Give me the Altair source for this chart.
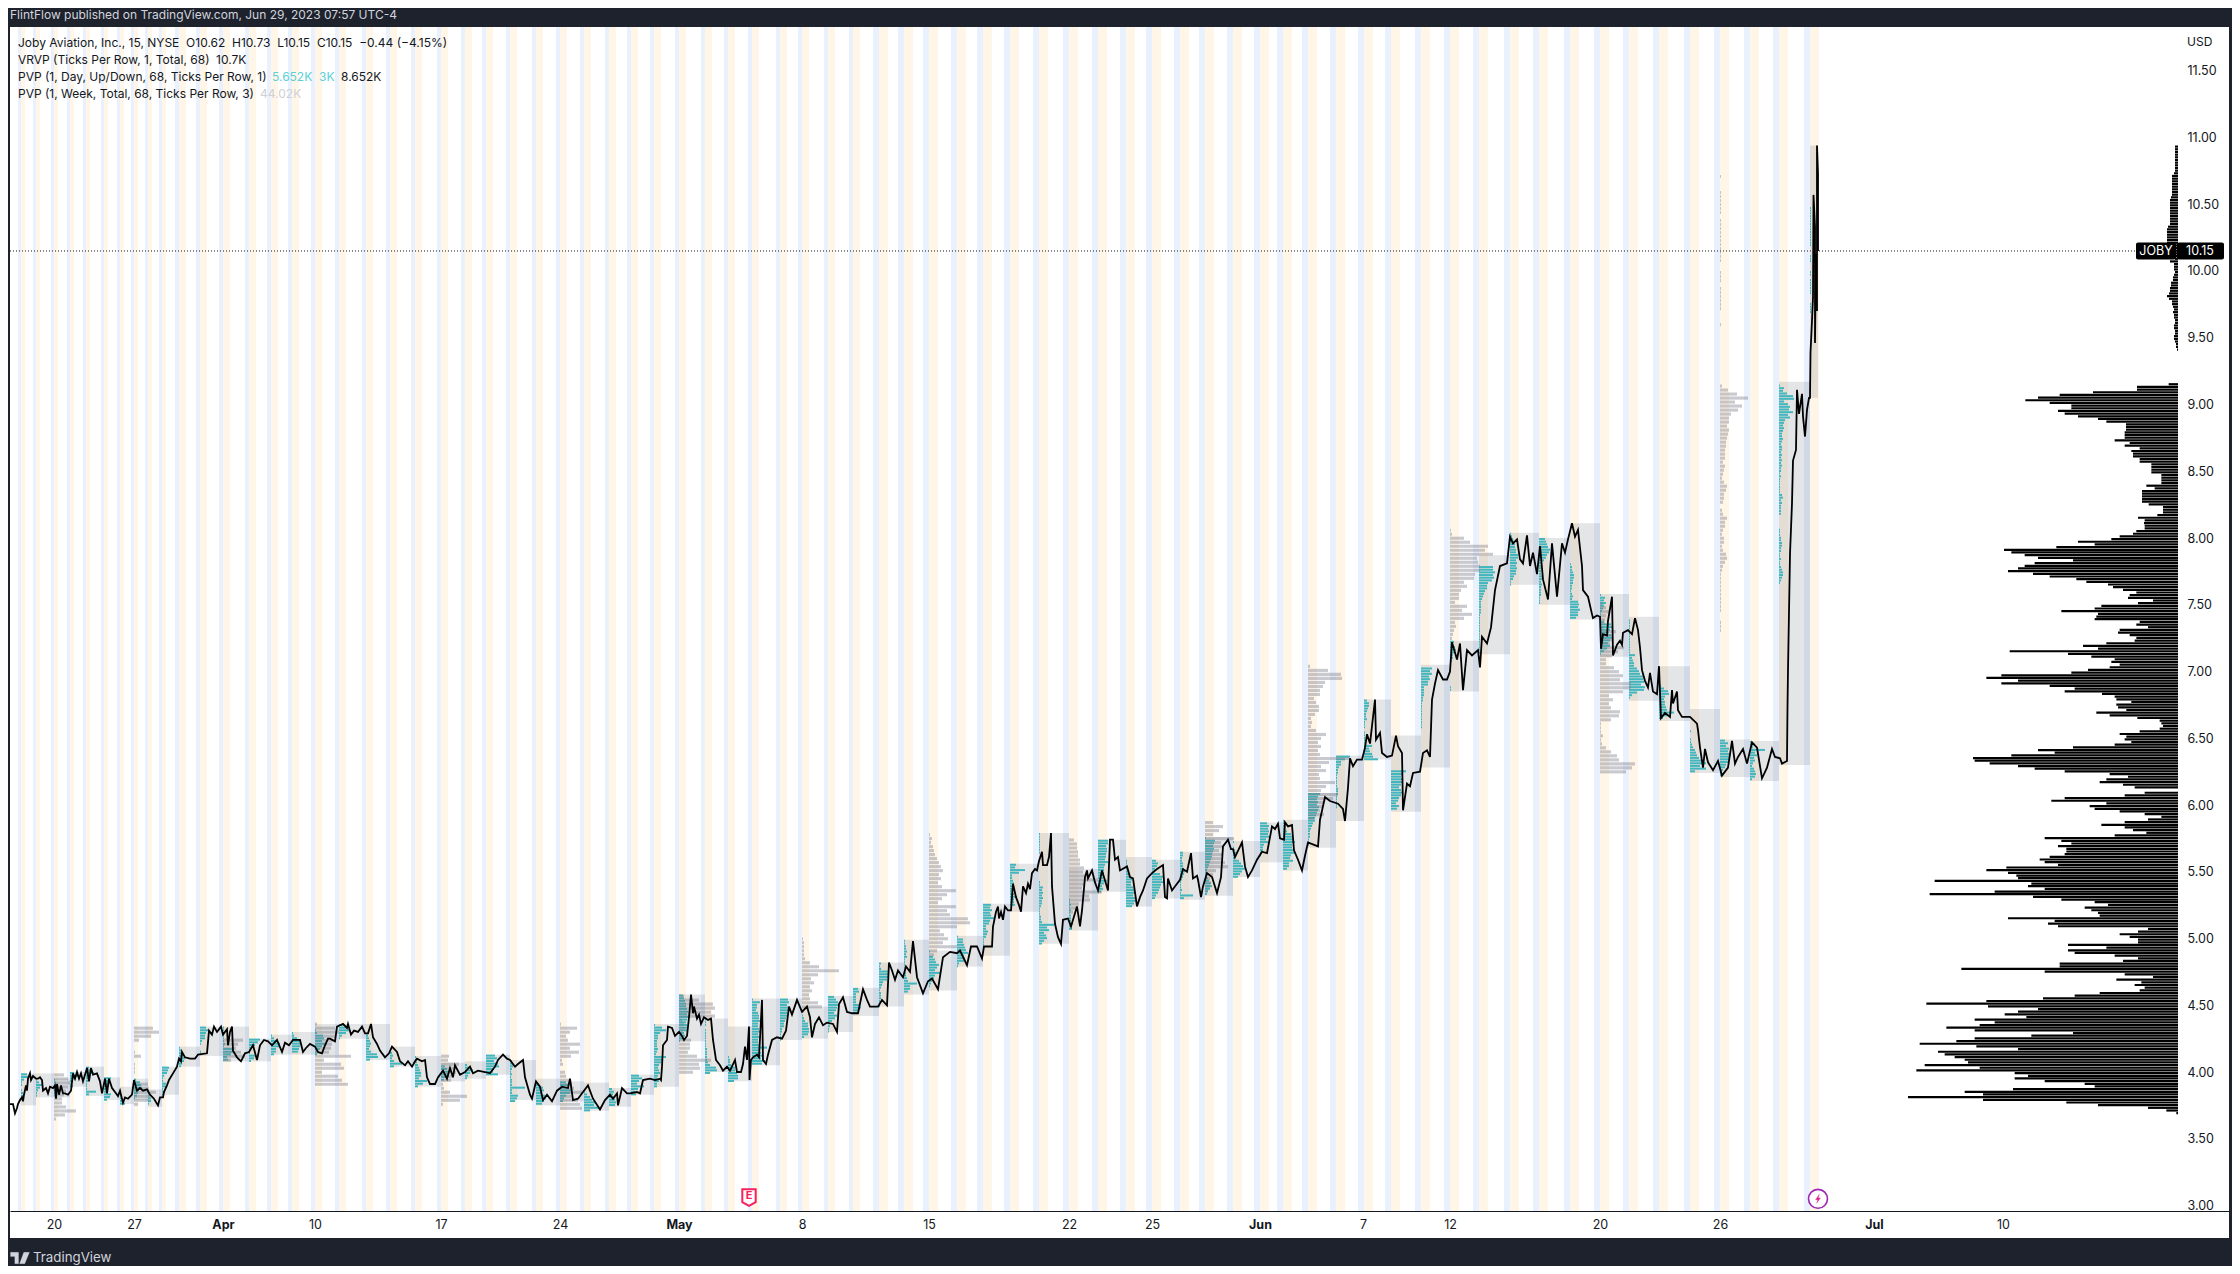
import altair as alt
import pandas as pd

alt.data_transformers.disable_max_rows()

# ---------- price path: (bar position, price) ----------
PRICE_MAR = [(10,3.76),(13,3.76),(15,3.69),(17,3.73),(18,3.76),(20,3.79),(22,3.81),(23,3.78),(24,3.83),(26,3.90),(27,3.86),(28,3.95),(30,3.99),(31,3.94),(33,3.97),(36,3.95),(38,3.95),(40,3.96),(42,3.94),(43,3.86),(46,3.88),(48,3.84),(50,3.89),(53,3.88),(55,3.90),(56,3.80),(57,3.91),(59,3.83),(61,3.90),(63,3.84),(65,3.84),(68,3.83),(71,3.86),(73,3.99),(75,3.95),(77,4.00),(79,3.95),(81,3.99),(83,3.93),(85,3.98),(87,4.03),(89,3.93),(91,4.03),(93,3.98),(97,3.99),(100,3.93),(102,3.84),(105,3.95),(107,3.84),(109,3.95),(112,3.88),(115,3.85),(118,3.82),(120,3.86),(123,3.77),(125,3.81),(128,3.80),(132,3.83),(134,3.94),(137,3.86),(140,3.88),(143,3.86),(147,3.87),(150,3.83),(154,3.80),(158,3.75),(160,3.81),(163,3.81),(164,3.85),(167,3.90),(169,3.94),(173,3.99),(177,4.04),(179,4.10),(181,4.08),(182,4.15),(185,4.11),(190,4.10),(195,4.10),(198,4.13),(207,4.14),(209,4.31),(212,4.28),(214,4.34),(217,4.30),(221,4.34)]
PRICE_APR = [(223,4.28),(227,4.32),(228,4.20),(230,4.30),(232,4.34),(233,4.16),(237,4.11),(241,4.08),(245,4.14),(249,4.15),(253,4.20),(257,4.09),(260,4.20),(264,4.24),(268,4.23),(272,4.20),(277,4.24),(282,4.15),(285,4.22),(289,4.20),(293,4.24),(300,4.24),(303,4.15),(306,4.18),(310,4.21),(315,4.19),(318,4.15),(322,4.14),(325,4.20),(328,4.25),(330,4.25),(335,4.23),(337,4.34),(340,4.35),(343,4.36),(347,4.33),(348,4.36),(351,4.28),(354,4.31),(358,4.30),(362,4.34),(365,4.29),(368,4.29),(371,4.36),(373,4.26),(377,4.21),(380,4.16),(385,4.11),(389,4.14),(392,4.19),(397,4.15),(400,4.08),(405,4.05),(408,4.08),(412,4.04),(415,4.08),(417,4.10),(422,4.08),(425,4.09),(427,3.96),(430,3.91),(435,3.91),(438,3.96),(441,3.99),(443,4.01),(445,3.98),(447,3.95),(450,4.03),(453,3.96),(455,4.05),(460,3.98),(465,4.00),(470,4.04),(473,3.99),(478,4.01),(485,4.00),(490,3.99),(495,4.04),(498,4.09),(503,4.13),(507,4.10),(510,4.09),(515,4.04),(518,4.06),(523,4.09),(525,3.96),(530,3.83),(532,3.80),(536,3.93),(540,3.89),(543,3.79),(547,3.83),(552,3.78),(557,3.86),(562,3.89),(568,3.88),(570,3.95),(573,3.79),(578,3.80),(583,3.85),(588,3.90),(593,3.80),(600,3.72),(605,3.79),(610,3.83),(613,3.80),(617,3.84),(618,3.75),(622,3.88),(627,3.84),(630,3.84),(637,3.85),(640,3.84),(643,3.94),(650,3.95),(655,3.94),(660,3.95)]
PRICE_MAY = [(661,3.94),(662,4.04),(663,4.20),(667,4.24),(668,4.34),(672,4.33),(675,4.27),(679,4.30),(682,4.27),(684,4.24),(687,4.27),(689,4.41),(691,4.58),(693,4.44),(694,4.49),(697,4.40),(699,4.43),(701,4.36),(704,4.41),(708,4.39),(711,4.40),(713,4.24),(716,4.09),(720,4.05),(723,4.01),(727,4.04),(730,4.01),(735,4.09),(737,4.00),(741,4.00),(743,4.06),(745,4.19),(747,4.09),(749,4.34),(749.5,3.94),(751,4.09),(753,4.11),(757,4.13),(759,4.11),(762,4.54),(763,4.09),(766,4.06),(768,4.13),(772,4.24),(777,4.26),(782,4.25),(786,4.31),(789,4.49),(792,4.43),(797,4.54),(802,4.45),(807,4.49),(810,4.41),(812,4.26),(815,4.36),(819,4.41),(823,4.35),(827,4.37),(833,4.36),(837,4.30),(839,4.51),(843,4.56),(847,4.45),(852,4.44),(858,4.44),(863,4.62),(867,4.54),(870,4.49),(878,4.49),(882,4.54),(887,4.50),(889,4.82),(892,4.76),(895,4.69),(898,4.76),(903,4.71),(906,4.79),(910,4.75),(913,4.98),(917,4.71),(923,4.59),(928,4.68),(932,4.70),(938,4.62),(943,4.86),(950,4.90),(957,4.89),(960,4.91),(967,4.80),(971,4.94),(977,4.94),(982,4.85),(984,4.94),(992,4.94),(993,5.09),(996,5.20),(998,5.24),(999,5.15),(1001,5.20),(1003,5.14),(1005,5.24),(1008,5.21),(1011,5.21),(1013,5.41),(1016,5.31),(1019,5.25),(1021,5.20),(1023,5.39),(1026,5.34),(1028,5.41),(1030,5.37),(1032,5.49),(1035,5.52),(1037,5.51),(1039,5.58),(1042,5.65),(1043,5.55),(1047,5.55),(1049,5.61),(1051,5.79),(1052,5.39),(1055,5.11),(1058,5.01),(1061,4.96),(1063,5.14),(1068,5.15),(1071,5.09),(1077,5.24),(1080,5.09),(1082,5.21),(1085,5.46),(1087,5.51),(1088,5.45),(1092,5.51),(1095,5.42),(1098,5.36),(1102,5.51),(1108,5.36),(1110,5.74),(1113,5.74),(1115,5.59),(1118,5.61),(1120,5.51),(1127,5.54),(1130,5.46),(1133,5.45),(1137,5.24),(1140,5.31),(1143,5.36),(1147,5.45),(1152,5.49),(1157,5.52),(1163,5.55),(1165,5.31),(1167,5.30),(1168,5.45),(1172,5.36),(1177,5.41),(1180,5.44),(1183,5.52),(1187,5.50),(1191,5.64),(1193,5.45),(1197,5.47),(1198,5.44),(1201,5.31),(1203,5.39),(1207,5.49),(1212,5.46),(1217,5.34),(1221,5.46),(1223,5.69),(1228,5.74),(1231,5.67),(1233,5.67),(1235,5.61),(1242,5.72),(1245,5.54),(1248,5.46),(1252,5.51),(1257,5.59)]
PRICE_JUN = [(1262,5.65),(1267,5.64),(1272,5.84),(1275,5.82),(1278,5.86),(1280,5.75),(1284,5.74),(1285,5.87),(1288,5.84),(1292,5.85),(1294,5.66),(1298,5.59),(1302,5.51),(1305,5.62),(1308,5.72),(1318,5.69),(1320,5.89),(1325,6.06),(1330,6.03),(1338,6.01),(1343,5.97),(1345,5.88),(1348,6.13),(1350,6.35),(1353,6.29),(1357,6.34),(1362,6.34),(1365,6.43),(1367,6.53),(1370,6.46),(1375,6.79),(1376,6.49),(1380,6.54),(1382,6.39),(1387,6.36),(1392,6.37),(1396,6.52),(1398,6.44),(1402,6.39),(1403,5.96),(1407,6.16),(1410,6.14),(1413,6.24),(1420,6.25),(1423,6.39),(1427,6.41),(1430,6.36),(1432,6.79),(1435,6.91),(1438,7.01),(1443,6.94),(1447,6.94),(1450,7.00),(1452,7.22),(1457,7.09),(1460,7.21),(1463,6.86),(1467,7.16),(1472,7.12),(1478,7.16),(1480,7.03),(1482,7.26),(1487,7.21),(1491,7.33),(1495,7.61),(1500,7.79),(1507,7.81),(1510,8.01),(1513,7.96),(1517,7.99),(1520,7.84),(1523,7.81),(1527,8.02),(1530,7.79),(1533,7.89),(1537,7.73),(1540,7.94),(1543,7.69),(1548,7.54),(1552,7.96),(1557,7.56),(1562,7.96),(1565,7.89),(1568,7.99),(1572,8.11),(1575,8.01),(1578,8.06),(1582,7.79),(1583,7.61),(1588,7.56),(1592,7.43),(1593,7.40),(1597,7.42),(1600,7.41),(1601,7.17),(1603,7.28),(1607,7.27),(1608,7.38),(1612,7.56),(1613,7.12),(1617,7.20),(1620,7.23),(1622,7.20),(1623,7.29),(1628,7.31),(1632,7.28),(1635,7.40),(1638,7.31),(1640,7.18),(1642,7.01),(1645,6.93),(1648,6.88),(1650,6.99),(1653,6.85),(1657,6.83),(1659,7.04),(1661,6.65),(1665,6.69),(1670,6.66),(1672,6.86),(1673,6.76),(1677,6.85),(1678,6.71),(1682,6.66),(1685,6.66),(1690,6.66),(1697,6.61),(1698,6.56),(1700,6.43),(1703,6.28),(1705,6.42),(1708,6.32),(1713,6.26),(1718,6.33),(1722,6.22),(1728,6.28),(1732,6.48),(1735,6.31),(1738,6.36),(1743,6.42),(1747,6.31),(1752,6.47),(1757,6.43),(1762,6.20),(1767,6.28),(1772,6.42),(1775,6.36),(1780,6.35),(1782,6.31),(1787,6.33),(1787.5,6.73),(1788,7.01),(1790,7.88),(1792,8.26),(1793,8.58),(1796,8.66),(1797,9.11),(1799,8.93),(1802,9.08),(1803,8.91),(1805,8.76),(1807,8.96),(1809,9.05),(1810,9.05),(1810.5,9.39),(1812,9.63),(1813,9.80),(1813.5,10.57),(1815,10.33),(1815,9.46),(1816,10.13),(1817,9.70),(1817,10.94),(1818,10.73),(1818,10.15)]

# ---------- session boxes: (start, high, low, daily volume-profile row lengths from high down) ----------
DAYS = [
 (21,3.99,3.75,[6,7,3,1,1,0,1,2,2,1]),(36,3.99,3.81,[0,0,1,3,6,4,2,1,1]),(54,3.95,3.81,[1,2,1,3,7,5,3]),(70,4.00,3.89,[4,8,6,3,2,3]),
 (86,4.04,3.82,[3,6,8,4,2,2,1,1,1,10,3]),(104,3.96,3.79,[7,6,5,4,2,3,7,6,3]),(120,3.89,3.76,[0,1,0,1,2,4,5]),(134,3.95,3.79,[2,6,7,8,5,4,3,1]),
 (148,3.87,3.74,[1,1,1,3,3,1]),(162,4.04,3.83,[7,6,5,2,1,1,4,4,1,3,2]),(179,4.19,4.04,[1,3,2,4,6,5,3,2]),(200,4.34,4.12,[6,8,6,5,5,2,1,0,0,1,1]),
 (223,4.34,4.08,[1,1,0,1,1,1,2,1,10,11,8,4,5]),(249,4.25,4.08,[11,9,6,3,1,1,6,5,2]),(271,4.28,4.13,[1,3,6,9,8,5,5,3]),(292,4.30,4.13,[1,2,5,8,9,8,7,6]),
 (315,4.36,4.13,[0,0,1,2,8,9,7,10,7,5,3,2]),(339,4.36,4.25,[5,9,10,7,3,1]),(366,4.36,4.09,[0,0,0,0,2,3,4,5,4,3,5,11,12,4]),(390,4.19,4.04,[0,1,2,3,2,4,12,4]),
 (415,4.12,3.89,[1,2,2,3,4,5,6,6,4,12,8,3]),(441,4.07,3.93,[0,4,6,9,7,5,3]),(465,4.08,3.95,[0,2,4,8,5,3,2]),(486,4.13,3.98,[9,11,8,12,13,8,7,12]),
 (510,4.09,3.79,[2,3,3,2,1,2,1,2,2,2,15,2,2,8,7,5]),(536,3.95,3.75,[0,0,3,7,8,6,9,10,8,6]),(560,3.93,3.78,[6,8,9,12,10,6,4,3]),(584,3.92,3.71,[0,0,0,1,3,6,8,12,10,15,6]),
 (609,3.88,3.74,[3,5,4,5,6,7,6]),(631,3.98,3.83,[8,11,8,6,13,7,4,5]),(654,4.36,3.89,[1,8,12,6,4,4,3,3,3,4,3,2,12,8,7,5,4,5,6,4,3,5,3,3]),
 (679,4.58,4.23,[4,5,6,7,7,8,9,8,9,8,7,8,9,8,5,6,4,1]),(705,4.40,4.00,[1,1,1,0,1,1,1,1,1,1,1,2,2,2,2,2,3,5,11,12,5]),(728,4.34,3.93,[0,0,0,0,0,0,0,0,0,0,0,1,2,2,3,7,7,9,10,10,6]),
 (752,4.55,4.05,[1,8,5,5,4,6,7,7,8,6,6,7,8,6,7,6,6,7,15,8,9,10,9,13,10]),(780,4.55,4.24,[8,9,7,9,10,7,7,6,5,4,4,2,2,1,1,1]),(802,4.49,4.25,[0,0,0,1,2,3,6,6,7,7,6,2]),
 (828,4.57,4.30,[6,8,10,10,9,8,6,9,7,4,2,2,1,1]),(853,4.63,4.42,[5,6,3,3,3,3,6,8,5,4]),(879,4.82,4.49,[2,1,2,9,10,9,8,4,3,2,1,2,2,2,1,1,1]),
 (904,4.99,4.58,[1,1,2,2,3,2,3,1,1,1,1,1,2,2,3,4,13,6,6,4]),(929,4.91,4.61,[1,0,4,6,7,10,8,6,11,6,5,3,2,1]),(957,5.02,4.79,[1,6,6,7,8,9,11,7,8,7,2,1]),
 (983,5.26,4.87,[8,7,9,7,8,11,7,6,3,3,5,4,3,1,1,1]),(1010,5.56,5.20,[6,5,15,9,2,2,3,4,3,3,3,4,5,4,4,5]),
 (1039,5.79,4.96,[1,1,1,1,1,1,1,1,0,0,0,0,0,0,0,0,0,0,1,1,4,3,4,3,4,3,3,2,1,1,1,2,2,3,15,8,10,5,7,8,5,3]),
 (1069,5.52,5.06,[0,0,0,0,0,0,0,0,0,0,0,1,1,2,1,2,1,2,2,2,4,3,3]),(1098,5.74,5.35,[10,10,8,9,9,8,8,7,10,7,6,6,6,6,5,9,6,4,5,3]),
 (1126,5.61,5.24,[0,1,1,1,1,2,3,3,6,5,5,7,8,9,7,9,10,8,6]),(1152,5.59,5.30,[4,6,5,3,3,8,12,10,12,9,8,7,6,4,3]),(1180,5.65,5.29,[3,3,2,2,3,3,4,5,4,3,2,1,1,1,2,1,13,4]),
 (1205,5.76,5.32,[1,10,9,8,9,8,7,7,6,5,4,3,2,2,2,3,4,6,7,5,3,2]),(1233,5.73,5.46,[1,0,1,2,4,3,2,6,8,10,12,9,7,5]),(1260,5.87,5.57,[7,9,8,9,8,9,6,8,4,3,3,2,1]),
 (1283,5.89,5.51,[1,1,1,2,4,8,9,10,12,9,9,10,12,8,7,10,6,6,4]),(1308,6.09,5.68,[12,10,9,10,9,11,10,9,8,7,7,5,4,3,2,2,2,1,1,1]),
 (1336,6.37,5.88,[14,9,5,5,3,2,2,1,1,1,1,1,2,2,2,1,1,1,1,1]),(1364,6.79,6.34,[3,5,5,4,3,2,2,3,1,1,1,0,1,1,1,2,2,8,5,6,8,9,14]),
 (1391,6.52,5.95,[0,0,0,0,0,0,0,0,0,0,0,0,0,15,12,10,11,11,10,8,10,11,10,8,7,5,8,6]),(1421,7.05,6.28,[0,11,9,11,8,9,7,7,3,3,3,3,2,2,1,1,1,1,1,1,1,1,1,1]),
 (1450,7.23,6.85,[4,3,5,6,5,3,3,2,1,1,1,1,0,0,0,0,0,1,1]),(1479,7.87,7.13,[0,0,0,0,14,14,16,14,15,13,9,8,8,6,5,4,3,2,2,2,2,2,1,1,1,1,1,1,1,1,1,1,1,1,1,1,1]),
 (1510,8.04,7.65,[1,2,3,4,5,5,6,6,8,8,6,7,6,7,6,6,4,3,1,1]),(1539,8.00,7.50,[6,7,8,9,11,10,8,7,5,3,2,2,2,2,3,3,2,3,2,2,2,2,1,1,1]),
 (1570,8.11,7.39,[0,0,0,0,0,0,0,0,0,0,0,0,0,0,0,1,2,2,3,4,4,3,3,2,2,1,2,3,2,8,9,8,10,8,8,6]),(1600,7.58,7.11,[1,5,4,6,4,3,2,1,1,1,4,11,12,10,9,11,12,10,8,10,7,4,1]),
 (1629,7.41,6.78,[0,1,1,1,1,1,1,1,1,1,1,1,1,1,6,3,4,5,5,8,10,11,14,14,15,12,16,15,8,3,1]),(1659,7.04,6.63,[0,0,0,0,0,0,0,2,5,9,10,6,5,6,6,7,8,15,9,4]),
 (1690,6.72,6.24,[0,0,0,0,0,0,0,0,1,0,0,1,1,2,3,5,6,7,9,12,16,10,16,5]),(1720,6.49,6.21,[5,8,6,9,8,9,10,9,8,6,5,3,1,1]),(1750,6.48,6.18,[1,5,3,15,5,7,4,5,3,2,4,5,6,5,2]),
 (1779,9.17,6.30,[0,1,5,4,8,14,15,5,9,11,10,14,9,11,6,5,4,5,4,3,3,4,3,2,3,3,2,3,2,3,2,3,2,2,1,2,1,1,1,1,1,1,3,4,2,3,2,2,2,2,0,0,0,0,0,1,1,1,2,2,3,3,2,2,1,1,2,1,1,2,3,4,4,3,2,1]),
 (1810,10.94,9.05,[0,0,0,0,0,0,0,0,0,0,0,0,0,0,0,0,0,0,0,0,0,0,0,1,1,1,1,1,1,1,1,1,1,1,1,1,1,1,0,0,0,1,1,1,0,0,0,1,1,0,1,1,1,1,1,1,0,0,0,1,1,1,1]),
]
LAST_BAR = 1818

# extended-hours band widths, by first session they apply to: (from bar, before, after)
BAND_WIDTHS = [(0,3,4),(179,4,7),(879,6,9)]

# ---------- weekly profile: (start, top price, row lengths) ----------
WEEKS = [
 (54,3.99,[10,14,16,14,12,10,8,8,12,22,11,2]),
 (134,4.34,[19,25,17,5,0,0,1,7,0,1,1,1,0,1,14,15,22,16,15,4]),
 (223,4.25,[20,15,13,18,22,8]),
 (315,4.37,[2,20,24,20,18,17,16,14,36,9,26,29,7,23,27,33]),
 (441,4.13,[8,7,18,14,15,11,10,2,3,9,26,19,2]),
 (560,4.37,[1,17,10,6,8,20,10,19,11,2,3,0,5,6,9,12,14,22,11,18,20,22]),
 (679,4.58,[5,20,34,36,32,36,3,5,6,4,5,12,11,11,9,18,32,20,21,14]),
 (802,5.01,[1,2,2,2,2,3,8,17,37,16,9,12,8,10,7,8,16,20,2]),
 (929,5.79,[1,3,2,4,5,6,8,10,12,14,10,12,9,13,27,18,13,9,27,18,21,39,41,28,11,15,19,14,28,8,5]),
 (1069,5.75,[5,8,8,9,9,11,11,15,14,20,29,15,13,33,20,21,10,8,4]),
 (1205,5.88,[8,18,14,8,29,16,18,14,18,16,20,23,11,8,5,6,5,3]),
 (1308,7.05,[2,20,33,34,17,15,12,12,6,8,11,11,7,3,4,3,8,18,13,10,13,10,12,41,21,13,18,11,12,27,18,13,30,25,15,14,12,16,6]),
 (1450,8.07,[1,2,14,20,38,35,43,27,28,30,30,25,24,14,17,11,9,9,5,17,12,22,14,5,6,4,3,2]),
 (1600,7.52,[3,6,10,6,5,5,4,16,12,12,10,24,18,12,6,6,14,19,23,20,31,31,23,9,13,9,11,20,19,11,1,1,1,3,1,2,6,11,17,19,35,32,26]),
 (1720,9.15,[2,8,17,28,15,22,18,11,9,9,7,9,8,7,6,6,5,5,5,3,5,4,3,2,4,7,6,4,4,3,0,2,3,7,5,5,3,2,4,4,2,3,6,7,5,3,2,1,1,1,1,1,1,1,1,1,1,0,0,1,1,1]),
 (1720,10.72,[1,0,0,0,1,1,1,1,1,1,0,1,1,1,1,1,1,1,1,1,1,1,0,0,1,1,1,0,1,1,1,1,1,1,0,0,0,1]),
]

# ---------- visible-range profile, row lengths ----------
VRVP_TOP_START = 10.94
VRVP_TOP = [3,3,3,3,3,3,3,3,3,3,4,6,6,6,6,6,6,6,6,7,8,8,8,8,8,8,8,8,8,8,10,11,11,11,11,11,11,11,9,9,8,8,3,8,4,4,4,3,4,5,5,7,7,8,8,9,11,9,6,6,5,4,5,4,4,3,3,4,4,3,3,4,4,3,2,2,1]
VRVP_MID_START = 9.16
VRVP_MID = [28,123,123,255,355,420,458,385,320,320,360,340,300,240,215,156,156,156,160,160,160,190,145,160,115,140,135,135,115,115,80,80,80,80,50,50,50,50,95,70,108,108,108,108,108,88,45,45,45,62,120,100,102,100,100,125,135,175,200,300,250,365,522,500,460,420,315,430,460,480,510,435,385,305,275,210,195,165,125,145,150,75,120,230,250,350,240,245,250,115,125,90,175,180,145,125,130,215,285,240,505,330,260,190,200,175,205,270,320,530,575,480,530,385,310,340,228,190,185,140,185,180,155,245,205,122,55,50,45,55,115,175,155,160,140,190,315,420,370,500,615,610,565,480,430,340,205,150,215,235,165,130]
VRVP_LOW_START = 6.10
VRVP_LOW = [100,160,340,380,215,265,250,175,100,50,90,160,230,160,135,95,190,400,350,320,360,335,335,340,385,415,400,360,515,575,510,485,480,730,440,450,400,550,745,435,350,250,210,280,260,240,235,510,370,390,360,90,120,175,145,120,120,330,215,330,310,190,120,165,355,355,650,400,160,75,185,110,130,100,115,235,310,405,575,755,570,420,480,520,455,610,550,595,695,610,315,440,610,665,775,605,480,720,700,670,640,630,760,595,785,490,450,490,400,280,250,495,640,585,810,585,335,240,90,35,5]
VRVP_BASE = 2178
VRVP_SCALE = 1 / 3

# ---------- axes ----------
TICK_BARS = [54,134,223,315,441,560,679,802,929,1069,1152,1260,1363,1450,1600,1720,1874,2003]
TICK_TEXT = ["20","27","Apr","10","17","24","May","8","15","22","25","Jun","7","12","20","26","Jul","10"]
MONTHS = [223,679,1260,1874]
PRICE_TICKS = [3,3.5,4,4.5,5,5.5,6,6.5,7,7.5,8,8.5,9,9.5,10,10.5,11,11.5]
LAST_CLOSE = 10.15

DARK, INK = "#1e222d", "#131722"
FONT = "Inter"

xs = alt.Scale(domain=[10, 2229], nice=False, zero=False)
ys = alt.Scale(domain=[2.7566, 11.8277], nice=False, zero=False)
AXIS_FLOOR = 2.959
AXIS_TOP = 11.8277

def X(f="x"):
    return alt.X(f"{f}:Q", scale=xs, title=None)
def Y(f="y"):
    return alt.Y(f"{f}:Q", scale=ys, title=None)
def X2(f="x2"):
    return alt.X2(f"{f}:Q")
def Y2(f="y2"):
    return alt.Y2(f"{f}:Q")

# ----- rows
bands, boxes, teal = [], [], []
for i, (s, hi, lo, rows) in enumerate(DAYS):
    end = DAYS[i + 1][0] if i + 1 < len(DAYS) else LAST_BAR
    b, a = [(p, q) for t, p, q in BAND_WIDTHS if t <= s][-1]
    bands.append(dict(x=s - b, x2=s, kind="pre"))
    bands.append(dict(x=s, x2=s + a, kind="post"))
    boxes.append(dict(x=s, x2=end, y=hi, y2=lo))
    for j, n in enumerate(rows):
        if n:
            top = hi - 0.02 * j
            teal.append(dict(x=s, x2=s + n, y=top, y2=top - 0.015))

week = []
for s, top, rows in WEEKS:
    for j, n in enumerate(rows):
        if n:
            t = top - 0.03 * j
            week.append(dict(x=s, x2=s + n, y=t, y2=t - 0.0235))

vrvp = []
for start, rows, k in [(VRVP_TOP_START, VRVP_TOP, 1.0), (VRVP_MID_START, VRVP_MID, VRVP_SCALE), (VRVP_LOW_START, VRVP_LOW, VRVP_SCALE)]:
    for j, n in enumerate(rows):
        if n:
            t = start - 0.02 * j
            vrvp.append(dict(x=VRVP_BASE - n * k, x2=VRVP_BASE, y=t, y2=t - 0.0165))

path = PRICE_MAR + PRICE_APR + PRICE_MAY + PRICE_JUN
line_df = pd.DataFrame([dict(i=i, x=a, y=b) for i, (a, b) in enumerate(path)])

band_df = pd.DataFrame(bands)
band_df["y"] = AXIS_TOP
band_df["y2"] = AXIS_FLOOR

label_map = "{" + ",".join(f"{b}:'{t}'" for b, t in zip(TICK_BARS, TICK_TEXT)) + "}"
bold_test = " || ".join(f"datum.value=={m}" for m in MONTHS)

one = pd.DataFrame({"a": [0]})

def txt(s, px, py, color=INK, size=12, weight="normal", align="left"):
    return alt.Chart(one).mark_text(text=s, align=align, baseline="middle", font=FONT, fontSize=size,
                                    fontWeight=weight, color=color).encode(x=alt.value(px - 10), y=alt.value(py - 27))

base = alt.Chart(band_df).mark_rect().encode(
    x=alt.X("x:Q", scale=xs, title=None, axis=alt.Axis(
        values=TICK_BARS, labelExpr=f"{label_map}[datum.value]", grid=False, ticks=False, domain=True,
        domainColor=INK, domainWidth=1, offset=-27, labelPadding=7, labelFont=FONT, labelFontSize=12.5, labelColor=INK,
        labelOverlap=False, labelFlush=False, orient="bottom",
        labelFontWeight={"condition": {"test": bold_test, "value": "bold"}, "value": "normal"})),
    x2=X2(),
    y=alt.Y("y:Q", scale=ys, title=None, axis=alt.Axis(
        values=PRICE_TICKS, format=".2f", grid=False, ticks=False, domain=False, orient="right", offset=-42,
        labelPadding=0, labelAlign="left", labelFont=FONT, labelFontSize=12.5, labelColor=INK, labelOverlap=False,
        labelFlush=False)),
    y2=Y2(),
    color=alt.Color("kind:N", legend=None, scale=alt.Scale(domain=["pre", "post"], range=["#e9f0fe", "#fff6e8"])),
)

box_layer = alt.Chart(pd.DataFrame(boxes)).mark_rect(color="#787b86", opacity=0.2).encode(x=X(), x2=X2(), y=Y(), y2=Y2())
teal_layer = alt.Chart(pd.DataFrame(teal)).mark_rect(color="#41b6bf", opacity=1).encode(x=X(), x2=X2(), y=Y(), y2=Y2())
week_layer = alt.Chart(pd.DataFrame(week)).mark_rect(color="#787b86", opacity=0.4).encode(x=X(), x2=X2(), y=Y(), y2=Y2())
vrvp_layer = alt.Chart(pd.DataFrame(vrvp)).mark_rect(color="#000000").encode(x=X(), x2=X2(), y=Y(), y2=Y2())
price_layer = alt.Chart(line_df).mark_line(color="#000000", strokeWidth=1.8, interpolate="linear").encode(
    x=X(), y=Y(), order="i:Q")
last_line = alt.Chart(pd.DataFrame({"x": [10], "x2": [2136], "y": [LAST_CLOSE]})).mark_rule(
    color="#131722", strokeDash=[1, 2], strokeWidth=1).encode(x=X(), x2=X2(), y=Y())
tags = alt.Chart(pd.DataFrame({"x": [2136, 2177], "x2": [2176, 2224], "y": [LAST_CLOSE + 0.064] * 2, "y2": [LAST_CLOSE - 0.064] * 2})).mark_rect(
    color="#000000", cornerRadius=2).encode(x=X(), x2=X2(), y=Y(), y2=Y2())
tag_text = alt.Chart(pd.DataFrame({"x": [2156, 2200], "y": [LAST_CLOSE] * 2, "t": ["JOBY", "10.15"]})).mark_text(
    color="white", font=FONT, fontSize=12.5, baseline="middle", align="center").encode(x=X(), y=Y(), text="t:N")

EARN_SHAPE = "M-0.8,-1 L0.8,-1 L0.8,0.55 L0,1 L-0.8,0.55 Z"
earn = alt.Chart(pd.DataFrame({"x": [749], "y": [3.06]})).mark_point(
    shape=EARN_SHAPE, size=280, stroke="#f7215b", strokeWidth=2, fill="white", fillOpacity=1, opacity=1).encode(x=X(), y=Y())
earn_t = alt.Chart(pd.DataFrame({"x": [749], "y": [3.07], "t": ["E"]})).mark_text(
    color="#f7215b", font=FONT, fontSize=11, fontWeight="bold", baseline="middle").encode(x=X(), y=Y(), text="t:N")
bolt_c = alt.Chart(pd.DataFrame({"x": [1818], "y": [3.05]})).mark_point(
    shape="circle", size=360, stroke="#9c27b0", strokeWidth=1.6, fill="white", fillOpacity=1, opacity=1).encode(x=X(), y=Y())
bolt = alt.Chart(pd.DataFrame({"x": [1818], "y": [3.05]})).mark_point(
    shape="M0.3,-1 L-0.55,0.2 L-0.05,0.2 L-0.3,1 L0.55,-0.2 L0.05,-0.2 Z", size=80, fill="#e0218a", fillOpacity=1, stroke="#e0218a", strokeWidth=0.3, opacity=1).encode(x=X(), y=Y())

logo = alt.Chart(one).mark_point(
    shape="M-1,-0.6 L-0.15,-0.6 L-0.15,0.6 L-0.55,0.6 L-0.55,-0.15 L-1,-0.15 Z M0.4,-0.6 L1,-0.6 L0.5,0.6 L-0.05,0.6 Z",
    size=360, fill="#d1d4dc", fillOpacity=1, stroke="#d1d4dc", strokeWidth=0.2, opacity=1).encode(x=alt.value(20 - 10), y=alt.value(1258 - 27))

SP = "\u00a0\u00a0"
texts = [
    txt("FlintFlow published on TradingView.com, Jun 29, 2023 07:57 UTC-4", 10, 15, color="#d1d4dc"),
    txt(f"Joby Aviation, Inc., 15, NYSE{SP}O10.62{SP}H10.73{SP}L10.15{SP}C10.15{SP}−0.44 (−4.15%)", 18, 43),
    txt("VRVP (Ticks Per Row, 1, Total, 68)", 18, 60),
    txt("10.7K", 216, 60),
    txt("PVP (1, Day, Up/Down, 68, Ticks Per Row, 1)", 18, 77),
    txt("5.652K", 272, 77, color="#5cd0d8"),
    txt("3K", 319, 77, color="#5cd0d8"),
    txt("8.652K", 341, 77),
    txt("PVP (1, Week, Total, 68, Ticks Per Row, 3)", 18, 94),
    txt("44.02K", 260, 94, color="#cfd0d4"),
    txt("USD", 2187, 42),
    txt("TradingView", 33, 1258, color="#d1d4dc", size=13.3),
]

chart = alt.layer(base, box_layer, teal_layer, week_layer, price_layer, vrvp_layer, last_line, tags, tag_text,
                  earn, earn_t, bolt_c, bolt, logo, *texts).properties(
    width=2219, height=1211, background=DARK,
    padding={"left": 2, "top": 19, "right": 3, "bottom": 28},
    autosize=alt.AutoSizeParams(type="none"),
).configure_view(fill="white", stroke=None)

chart.save("out.html", embed_options={"renderer": "svg", "actions": False})
